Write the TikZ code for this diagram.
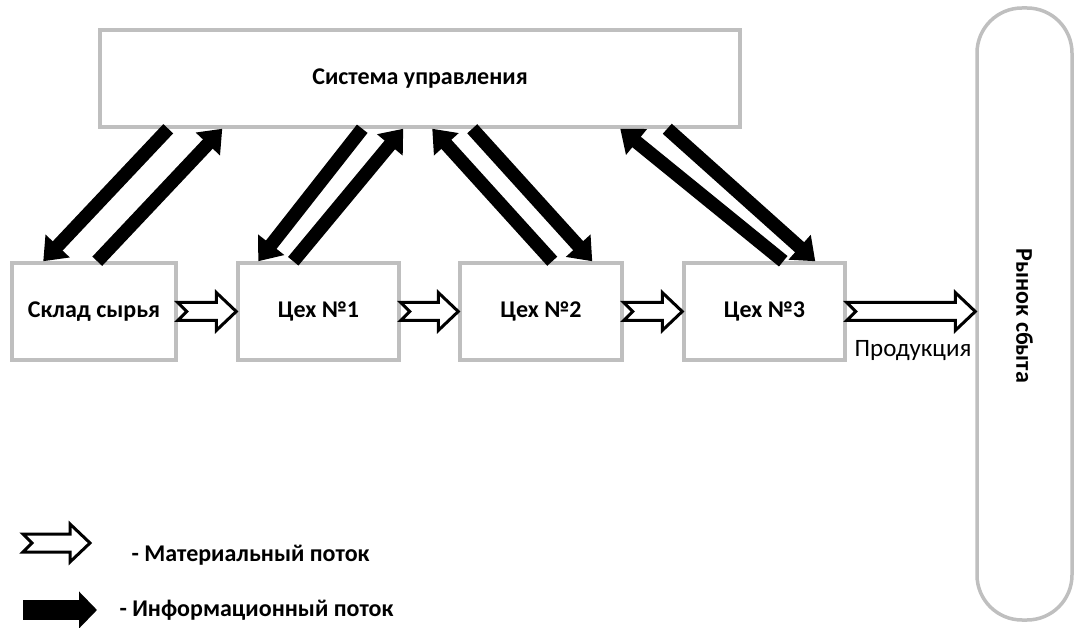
\documentclass[tikz,border=0pt]{standalone}
\usepackage{fontspec}
\setmainfont{Carlito}
\usetikzlibrary{arrows.meta,calc}
\definecolor{boxgray}{RGB}{191,191,191}
% hollow block arrow with notched tail
\newcommand\matarrow[2]{%
  \draw[mat] let \p1=(#1), \p2=(#2) in
    (\x1,\y1+9pt) -- (\x2-20pt,\y1+9pt) -- (\x2-20pt,\y1+19pt) -- (\x2,\y1)
    -- (\x2-20pt,\y1-19pt) -- (\x2-20pt,\y1-9pt) -- (\x1,\y1-9pt) -- (\x1+9pt,\y1) -- cycle;}
\begin{document}
\begin{tikzpicture}[x=1pt,y=-1pt,
  box/.style={draw=boxgray,line width=3.5pt,fill=white,font=\fontsize{24}{28}\selectfont\bfseries},
  mat/.style={draw=black,line width=3pt,fill=white,line join=miter},
  info/.style={draw=black,line width=13.5pt,-{Triangle[width=32pt,length=21pt]}},
  lbl/.style={font=\fontsize{24}{28}\selectfont\bfseries}]
\useasboundingbox (0,0) rectangle (1077,628);
\node[box,minimum width=640pt,minimum height=97pt](upr)at(420,78.5){Система управления};
\node[box,minimum width=164pt,minimum height=97pt](sklad)at(94,311.5){Склад сырья};
\node[box,minimum width=161pt,minimum height=97pt](ceh1)at(318.5,311.5){Цех №1};
\node[box,minimum width=162pt,minimum height=97pt](ceh2)at(541,311.5){Цех №2};
\node[box,minimum width=161pt,minimum height=97pt](ceh3)at(764.5,311.5){Цех №3};
\node[box,minimum width=95pt,minimum height=612pt,rounded corners=45pt](rynok)at(1024.5,314){};
\node[lbl,rotate=-90](rynoktxt)at(1024.5,316){Рынок сбыта};
% material flow
\matarrow{sklad.east}{ceh1.west}
\matarrow{ceh1.east}{ceh2.west}
\matarrow{ceh2.east}{ceh3.west}
\matarrow{ceh3.east}{ceh3.east -| rynok.west}
\node[font=\fontsize{25}{29}\selectfont](prod)at(913,351){Продукция};
% information flow
\draw[info] ([xshift=70pt]upr.south west) -- ([xshift=33pt]sklad.north west);
\draw[info] ([xshift=87pt]sklad.north west) -- ([xshift=124pt]upr.south west);
\draw[info] ([xshift=264pt]upr.south west) -- ([xshift=22pt]ceh1.north west);
\draw[info] ([xshift=57pt]ceh1.north west) -- ([xshift=305pt]upr.south west);
\draw[info] ([xshift=94pt]ceh2.north west) -- ([xshift=334pt]upr.south west);
\draw[info] ([xshift=374pt]upr.south west) -- ([xshift=134pt]ceh2.north west);
\draw[info] ([xshift=101pt]ceh3.north west) -- ([xshift=522pt]upr.south west);
\draw[info] ([xshift=569pt]upr.south west) -- ([xshift=133pt]ceh3.north west);
% legend
\coordinate (m1) at (23,543);
\coordinate (m2) at (90,543);
\matarrow{m1}{m2}
\node[lbl,anchor=west](mattxt)at(128,555){- Материальный поток};
\coordinate (i1) at (23,610);
\coordinate (i2) at (97,610);
\draw[info,line width=20pt,-{Triangle[width=36pt,length=18pt]}] (i1) -- (i2);
\node[lbl,anchor=west](infotxt)at(116,610){- Информационный поток};
\end{tikzpicture}
\end{document}
